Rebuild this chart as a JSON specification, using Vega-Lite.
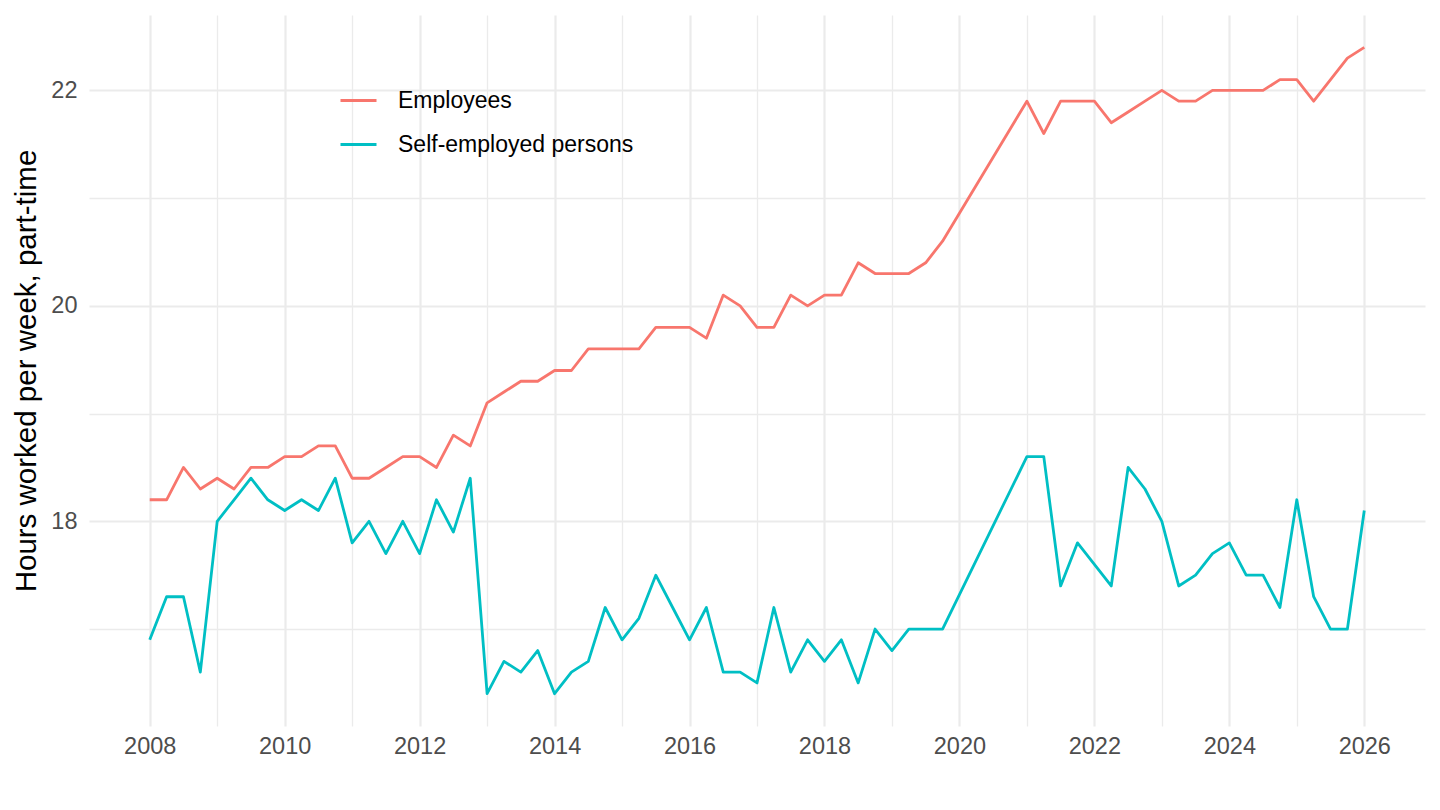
{
  "$schema": "https://vega.github.io/schema/vega-lite/v6.json",
  "autosize": {"type": "none"},
  "width": 1336,
  "height": 711,
  "padding": {"left": 89, "top": 15, "right": 15, "bottom": 84},
  "background": "white",
  "config": {
    "view": {"stroke": null},
    "font": "Liberation Sans"
  },
  "data": {
    "values": [
      {"year": 2008.0, "series": "Employees", "hours": 18.2},
      {"year": 2008.25, "series": "Employees", "hours": 18.2},
      {"year": 2008.5, "series": "Employees", "hours": 18.5},
      {"year": 2008.75, "series": "Employees", "hours": 18.3},
      {"year": 2009.0, "series": "Employees", "hours": 18.4},
      {"year": 2009.25, "series": "Employees", "hours": 18.3},
      {"year": 2009.5, "series": "Employees", "hours": 18.5},
      {"year": 2009.75, "series": "Employees", "hours": 18.5},
      {"year": 2010.0, "series": "Employees", "hours": 18.6},
      {"year": 2010.25, "series": "Employees", "hours": 18.6},
      {"year": 2010.5, "series": "Employees", "hours": 18.7},
      {"year": 2010.75, "series": "Employees", "hours": 18.7},
      {"year": 2011.0, "series": "Employees", "hours": 18.4},
      {"year": 2011.25, "series": "Employees", "hours": 18.4},
      {"year": 2011.5, "series": "Employees", "hours": 18.5},
      {"year": 2011.75, "series": "Employees", "hours": 18.6},
      {"year": 2012.0, "series": "Employees", "hours": 18.6},
      {"year": 2012.25, "series": "Employees", "hours": 18.5},
      {"year": 2012.5, "series": "Employees", "hours": 18.8},
      {"year": 2012.75, "series": "Employees", "hours": 18.7},
      {"year": 2013.0, "series": "Employees", "hours": 19.1},
      {"year": 2013.25, "series": "Employees", "hours": 19.2},
      {"year": 2013.5, "series": "Employees", "hours": 19.3},
      {"year": 2013.75, "series": "Employees", "hours": 19.3},
      {"year": 2014.0, "series": "Employees", "hours": 19.4},
      {"year": 2014.25, "series": "Employees", "hours": 19.4},
      {"year": 2014.5, "series": "Employees", "hours": 19.6},
      {"year": 2014.75, "series": "Employees", "hours": 19.6},
      {"year": 2015.0, "series": "Employees", "hours": 19.6},
      {"year": 2015.25, "series": "Employees", "hours": 19.6},
      {"year": 2015.5, "series": "Employees", "hours": 19.8},
      {"year": 2015.75, "series": "Employees", "hours": 19.8},
      {"year": 2016.0, "series": "Employees", "hours": 19.8},
      {"year": 2016.25, "series": "Employees", "hours": 19.7},
      {"year": 2016.5, "series": "Employees", "hours": 20.1},
      {"year": 2016.75, "series": "Employees", "hours": 20.0},
      {"year": 2017.0, "series": "Employees", "hours": 19.8},
      {"year": 2017.25, "series": "Employees", "hours": 19.8},
      {"year": 2017.5, "series": "Employees", "hours": 20.1},
      {"year": 2017.75, "series": "Employees", "hours": 20.0},
      {"year": 2018.0, "series": "Employees", "hours": 20.1},
      {"year": 2018.25, "series": "Employees", "hours": 20.1},
      {"year": 2018.5, "series": "Employees", "hours": 20.4},
      {"year": 2018.75, "series": "Employees", "hours": 20.3},
      {"year": 2019.0, "series": "Employees", "hours": 20.3},
      {"year": 2019.25, "series": "Employees", "hours": 20.3},
      {"year": 2019.5, "series": "Employees", "hours": 20.4},
      {"year": 2019.75, "series": "Employees", "hours": 20.6},
      {"year": 2021.0, "series": "Employees", "hours": 21.9},
      {"year": 2021.25, "series": "Employees", "hours": 21.6},
      {"year": 2021.5, "series": "Employees", "hours": 21.9},
      {"year": 2021.75, "series": "Employees", "hours": 21.9},
      {"year": 2022.0, "series": "Employees", "hours": 21.9},
      {"year": 2022.25, "series": "Employees", "hours": 21.7},
      {"year": 2022.5, "series": "Employees", "hours": 21.8},
      {"year": 2022.75, "series": "Employees", "hours": 21.9},
      {"year": 2023.0, "series": "Employees", "hours": 22.0},
      {"year": 2023.25, "series": "Employees", "hours": 21.9},
      {"year": 2023.5, "series": "Employees", "hours": 21.9},
      {"year": 2023.75, "series": "Employees", "hours": 22.0},
      {"year": 2024.0, "series": "Employees", "hours": 22.0},
      {"year": 2024.25, "series": "Employees", "hours": 22.0},
      {"year": 2024.5, "series": "Employees", "hours": 22.0},
      {"year": 2024.75, "series": "Employees", "hours": 22.1},
      {"year": 2025.0, "series": "Employees", "hours": 22.1},
      {"year": 2025.25, "series": "Employees", "hours": 21.9},
      {"year": 2025.5, "series": "Employees", "hours": 22.1},
      {"year": 2025.75, "series": "Employees", "hours": 22.3},
      {"year": 2026.0, "series": "Employees", "hours": 22.4},
      {"year": 2008.0, "series": "Self-employed persons", "hours": 16.9},
      {"year": 2008.25, "series": "Self-employed persons", "hours": 17.3},
      {"year": 2008.5, "series": "Self-employed persons", "hours": 17.3},
      {"year": 2008.75, "series": "Self-employed persons", "hours": 16.6},
      {"year": 2009.0, "series": "Self-employed persons", "hours": 18.0},
      {"year": 2009.25, "series": "Self-employed persons", "hours": 18.2},
      {"year": 2009.5, "series": "Self-employed persons", "hours": 18.4},
      {"year": 2009.75, "series": "Self-employed persons", "hours": 18.2},
      {"year": 2010.0, "series": "Self-employed persons", "hours": 18.1},
      {"year": 2010.25, "series": "Self-employed persons", "hours": 18.2},
      {"year": 2010.5, "series": "Self-employed persons", "hours": 18.1},
      {"year": 2010.75, "series": "Self-employed persons", "hours": 18.4},
      {"year": 2011.0, "series": "Self-employed persons", "hours": 17.8},
      {"year": 2011.25, "series": "Self-employed persons", "hours": 18.0},
      {"year": 2011.5, "series": "Self-employed persons", "hours": 17.7},
      {"year": 2011.75, "series": "Self-employed persons", "hours": 18.0},
      {"year": 2012.0, "series": "Self-employed persons", "hours": 17.7},
      {"year": 2012.25, "series": "Self-employed persons", "hours": 18.2},
      {"year": 2012.5, "series": "Self-employed persons", "hours": 17.9},
      {"year": 2012.75, "series": "Self-employed persons", "hours": 18.4},
      {"year": 2013.0, "series": "Self-employed persons", "hours": 16.4},
      {"year": 2013.25, "series": "Self-employed persons", "hours": 16.7},
      {"year": 2013.5, "series": "Self-employed persons", "hours": 16.6},
      {"year": 2013.75, "series": "Self-employed persons", "hours": 16.8},
      {"year": 2014.0, "series": "Self-employed persons", "hours": 16.4},
      {"year": 2014.25, "series": "Self-employed persons", "hours": 16.6},
      {"year": 2014.5, "series": "Self-employed persons", "hours": 16.7},
      {"year": 2014.75, "series": "Self-employed persons", "hours": 17.2},
      {"year": 2015.0, "series": "Self-employed persons", "hours": 16.9},
      {"year": 2015.25, "series": "Self-employed persons", "hours": 17.1},
      {"year": 2015.5, "series": "Self-employed persons", "hours": 17.5},
      {"year": 2015.75, "series": "Self-employed persons", "hours": 17.2},
      {"year": 2016.0, "series": "Self-employed persons", "hours": 16.9},
      {"year": 2016.25, "series": "Self-employed persons", "hours": 17.2},
      {"year": 2016.5, "series": "Self-employed persons", "hours": 16.6},
      {"year": 2016.75, "series": "Self-employed persons", "hours": 16.6},
      {"year": 2017.0, "series": "Self-employed persons", "hours": 16.5},
      {"year": 2017.25, "series": "Self-employed persons", "hours": 17.2},
      {"year": 2017.5, "series": "Self-employed persons", "hours": 16.6},
      {"year": 2017.75, "series": "Self-employed persons", "hours": 16.9},
      {"year": 2018.0, "series": "Self-employed persons", "hours": 16.7},
      {"year": 2018.25, "series": "Self-employed persons", "hours": 16.9},
      {"year": 2018.5, "series": "Self-employed persons", "hours": 16.5},
      {"year": 2018.75, "series": "Self-employed persons", "hours": 17.0},
      {"year": 2019.0, "series": "Self-employed persons", "hours": 16.8},
      {"year": 2019.25, "series": "Self-employed persons", "hours": 17.0},
      {"year": 2019.5, "series": "Self-employed persons", "hours": 17.0},
      {"year": 2019.75, "series": "Self-employed persons", "hours": 17.0},
      {"year": 2021.0, "series": "Self-employed persons", "hours": 18.6},
      {"year": 2021.25, "series": "Self-employed persons", "hours": 18.6},
      {"year": 2021.5, "series": "Self-employed persons", "hours": 17.4},
      {"year": 2021.75, "series": "Self-employed persons", "hours": 17.8},
      {"year": 2022.0, "series": "Self-employed persons", "hours": 17.6},
      {"year": 2022.25, "series": "Self-employed persons", "hours": 17.4},
      {"year": 2022.5, "series": "Self-employed persons", "hours": 18.5},
      {"year": 2022.75, "series": "Self-employed persons", "hours": 18.3},
      {"year": 2023.0, "series": "Self-employed persons", "hours": 18.0},
      {"year": 2023.25, "series": "Self-employed persons", "hours": 17.4},
      {"year": 2023.5, "series": "Self-employed persons", "hours": 17.5},
      {"year": 2023.75, "series": "Self-employed persons", "hours": 17.7},
      {"year": 2024.0, "series": "Self-employed persons", "hours": 17.8},
      {"year": 2024.25, "series": "Self-employed persons", "hours": 17.5},
      {"year": 2024.5, "series": "Self-employed persons", "hours": 17.5},
      {"year": 2024.75, "series": "Self-employed persons", "hours": 17.2},
      {"year": 2025.0, "series": "Self-employed persons", "hours": 18.2},
      {"year": 2025.25, "series": "Self-employed persons", "hours": 17.3},
      {"year": 2025.5, "series": "Self-employed persons", "hours": 17.0},
      {"year": 2025.75, "series": "Self-employed persons", "hours": 17.0},
      {"year": 2026.0, "series": "Self-employed persons", "hours": 18.1}
    ]
  },
  "mark": {"type": "line", "strokeWidth": 2.8, "strokeJoin": "round"},
  "encoding": {
    "x": {
      "field": "year",
      "type": "quantitative",
      "scale": {"domain": [2007.1, 2026.9], "nice": false, "zero": false},
      "axis": {
        "title": null,
        "values": [2008, 2009, 2010, 2011, 2012, 2013, 2014, 2015, 2016, 2017, 2018, 2019, 2020, 2021, 2022, 2023, 2024, 2025, 2026],
        "format": "d",
        "labelExpr": "datum.value % 2 === 0 ? datum.label : ''",
        "domain": false,
        "ticks": false,
        "grid": true,
        "gridColor": "#EBEBEB",
        "gridWidth": {"condition": {"test": "datum.value % 2 === 0", "value": 2.2}, "value": 1.3},
        "labelFontSize": 23.5,
        "labelColor": "#4D4D4D",
        "labelPadding": 8,
        "labelFont": "Liberation Sans"
      }
    },
    "y": {
      "field": "hours",
      "type": "quantitative",
      "scale": {"domain": [16.1, 22.7], "nice": false, "zero": false},
      "axis": {
        "title": "Hours worked per week, part-time",
        "values": [17, 18, 19, 20, 21, 22],
        "labelExpr": "datum.value % 2 === 0 ? datum.label : ''",
        "domain": false,
        "ticks": false,
        "grid": true,
        "gridColor": "#EBEBEB",
        "gridWidth": {"condition": {"test": "datum.value % 2 === 0", "value": 2.2}, "value": 1.3},
        "labelFontSize": 23.5,
        "labelColor": "#4D4D4D",
        "labelPadding": 12,
        "labelFont": "Liberation Sans",
        "titleFont": "Liberation Sans",
        "titleFontSize": 29.5,
        "titleFontWeight": "normal",
        "titleColor": "black",
        "titlePadding": 9
      }
    },
    "color": {
      "field": "series",
      "type": "nominal",
      "scale": {"domain": ["Employees", "Self-employed persons"], "range": ["#F8766D", "#00BFC4"]},
      "legend": {
        "title": null,
        "orient": "none",
        "legendX": 250,
        "legendY": 66,
        "padding": 0,
        "symbolType": "stroke",
        "symbolSize": 1296,
        "symbolStrokeWidth": 3,
        "labelFontSize": 23,
        "labelFont": "Liberation Sans",
        "labelColor": "black",
        "labelOffset": 20,
        "labelLimit": 500,
        "rowPadding": 12
      }
    }
  }
}
